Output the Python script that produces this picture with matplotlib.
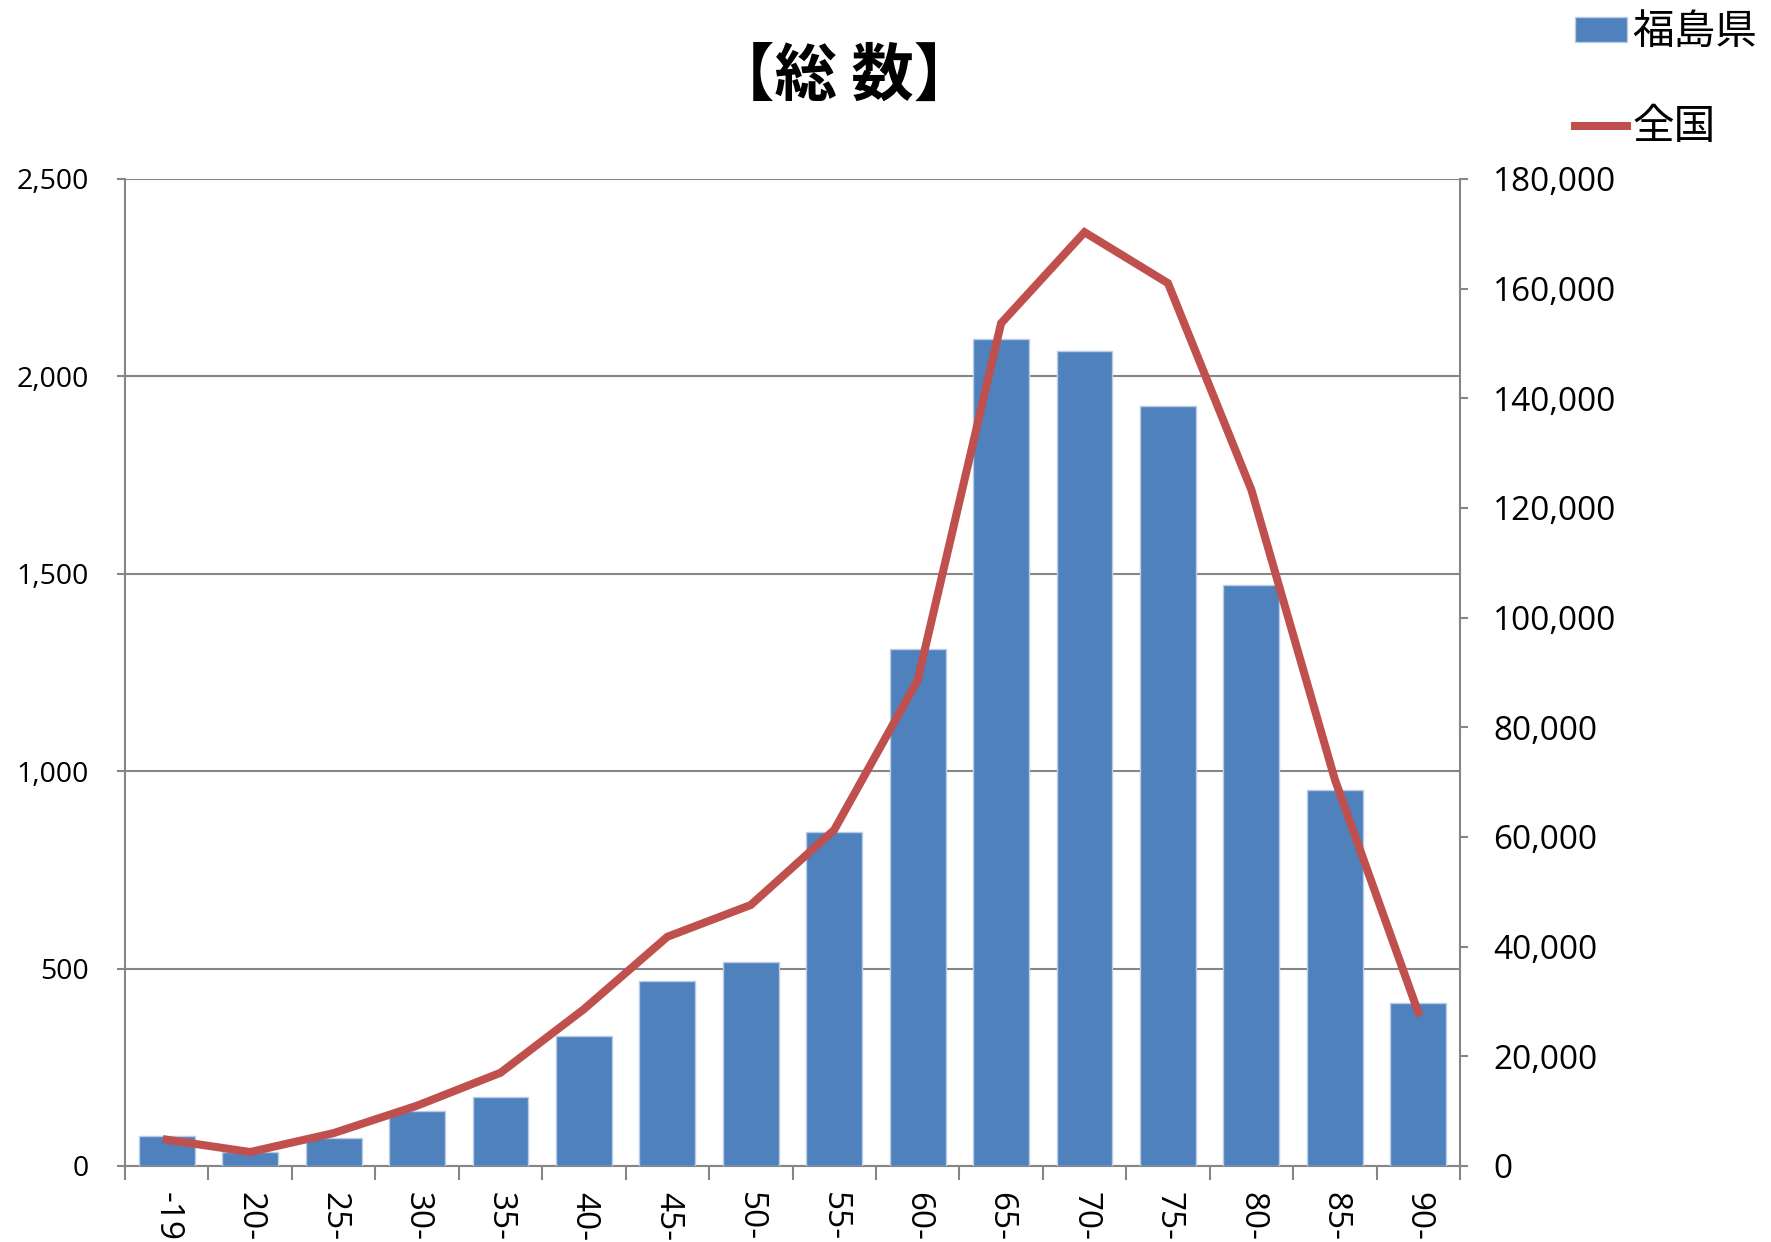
import matplotlib
matplotlib.use('Agg')
import matplotlib.pyplot as plt
from matplotlib.ticker import FuncFormatter, MultipleLocator

plt.rcParams['font.family'] = ['Open Sans', 'Noto Sans CJK JP', 'DejaVu Sans']

# age groups
ages = ['-19', '20-', '25-', '30-', '35-', '40-', '45-', '50-',
        '55-', '60-', '65-', '70-', '75-', '80-', '85-', '90-']
# Fukushima (left axis)
fukushima = [77, 35, 72, 139, 175, 329, 469, 517,
             847, 1310, 2095, 2064, 1925, 1472, 952, 412]
# national (right axis)
zenkoku = [4800, 2550, 6000, 11000, 17000, 28600, 41800, 47600,
           61300, 88600, 153700, 170300, 161000, 123300, 70500, 28000]

blue = '#4F81BD'
red = '#C0504D'
gray = '#868686'

fig = plt.figure(figsize=(17.71, 12.42), dpi=100)
ax = fig.add_axes([125 / 1771, 1 - 1166 / 1242, (1460 - 125) / 1771, (1166 - 179) / 1242])

x = list(range(len(ages)))
bars = ax.bar(x, fukushima, width=0.67, color=blue, edgecolor='#B9CDE5', linewidth=1, zorder=3, label='福島県')
ax.set_xlim(-0.5, len(ages) - 0.5)
ax.set_ylim(0, 2500)
ax.yaxis.set_major_locator(MultipleLocator(500))
ax.yaxis.set_major_formatter(FuncFormatter(lambda v, p: f'{int(v):,}'))
ax.grid(axis='y', color=gray, linewidth=1.5, zorder=0)
ax.set_axisbelow(True)

ax.set_xticks(x)
ax.set_xticklabels(ages, rotation=270, ha='center', va='top')
ax.set_xticks([i - 0.5 for i in range(len(ages) + 1)], minor=True)
ax.tick_params(axis='x', which='major', length=0, pad=19, labelsize=24)
ax.tick_params(axis='x', which='minor', length=10, width=1.5, color=gray, direction='out')
ax.tick_params(axis='y', length=6, width=1.5, color=gray, pad=20, labelsize=20.5)

for s in ['left', 'bottom']:
    ax.spines[s].set_color(gray)
    ax.spines[s].set_linewidth(1.5)
ax.spines['top'].set_visible(False)
ax.spines['right'].set_visible(False)

ax2 = ax.twinx()
line, = ax2.plot(x, zenkoku, color=red, linewidth=5.8, solid_joinstyle='miter', zorder=4, label='全国')
ax2.set_ylim(0, 180000)
ax2.yaxis.set_major_locator(MultipleLocator(20000))
ax2.yaxis.set_major_formatter(FuncFormatter(lambda v, p: f'{int(v):,}'))
ax2.tick_params(axis='y', length=6, width=1.5, color=gray, pad=18, labelsize=24)
ax2.spines['right'].set_color(gray)
ax2.spines['right'].set_linewidth(1.5)
for s in ['left', 'top', 'bottom']:
    ax2.spines[s].set_visible(False)

fig.text(844 / 1771, 1 - 76 / 1242, '【総 数】', family=['Noto Sans CJK JP'], fontweight='bold',
         fontsize=45, ha='center', va='center')

fig.legend(handles=[bars, line], labels=['福島県', '全国'], loc='upper right',
           bbox_to_anchor=(1757 / 1771, 1 - 12 / 1242), frameon=False,
           prop={'family': ['Noto Sans CJK JP'], 'size': 30},
           handlelength=1.25, handleheight=0.55, handletextpad=0.12,
           labelspacing=1.3, borderpad=0, borderaxespad=0)

fig.savefig('out.png', dpi=100)
